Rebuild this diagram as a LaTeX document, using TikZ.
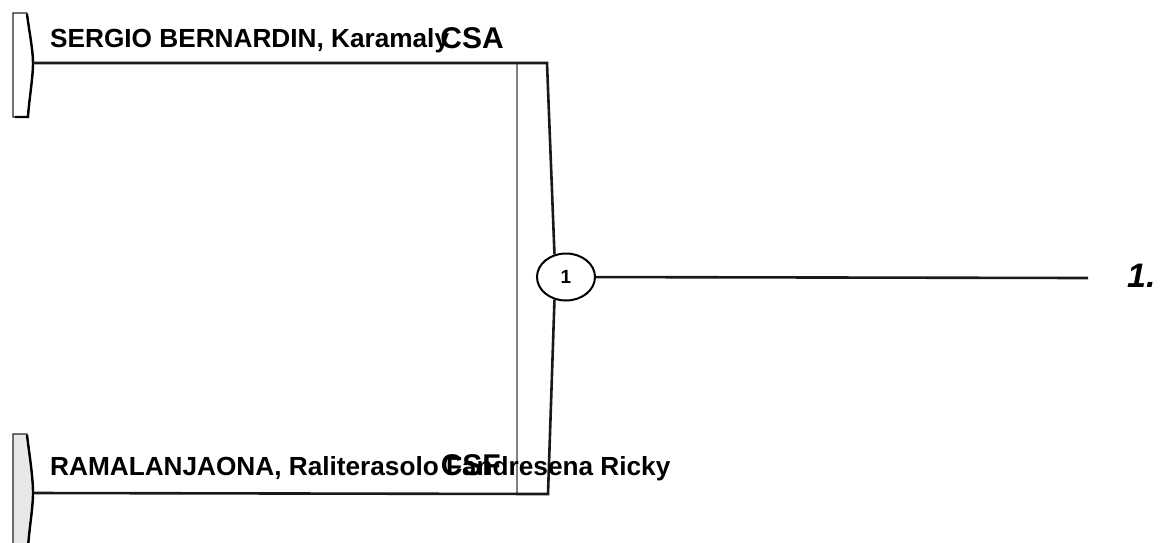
\documentclass[tikz,border=0pt]{standalone}
\usepackage{fontspec}
\setmainfont{Liberation Sans}
\usetikzlibrary{shapes.geometric}

\tikzset{
  tab/.style={draw=black!85,line width=1.2pt},
  link/.style={draw=black!90,line width=2.6pt},
  namelbl/.style={anchor=base west,inner sep=0pt,font=\fontsize{26.2}{30}\selectfont\bfseries},
  clublbl/.style={anchor=base east,inner sep=0pt,font=\fontsize{30}{34}\selectfont\bfseries},
  matchbox/.style={draw,ellipse,line width=2pt,fill=white,minimum width=58pt,minimum height=47pt,inner sep=0pt,font=\fontsize{19}{21}\selectfont\bfseries}
}

\begin{document}
\begin{tikzpicture}[x=1pt,y=-1pt]
\useasboundingbox (0,0) rectangle (1164,542);

\coordinate (pa) at (33,63);
\coordinate (pb) at (33,493);
\coordinate (ja) at (547,63);
\coordinate (jb) at (548,494);
\coordinate (r1) at (1088,278);

% entry tabs
\draw[tab,fill=white] (13,13) -- (27,13) .. controls (29,30) and (33,50) .. (pa)
  .. controls (33,78) and (29,100) .. (28,117) -- (13,117) -- cycle;
\draw[tab,fill=black!9] (13,434) -- (27,434) .. controls (29,452) and (33,476) .. (pb)
  .. controls (33,508) and (29,530) .. (28,548) -- (13,548) -- cycle;
\draw[line width=2.4pt] (27,14) .. controls (29,30) and (33,50) .. (pa)
  .. controls (33,78) and (29,100) .. (28,117) -- (15,117);
\draw[line width=2.4pt] (27,435) .. controls (29,452) and (33,476) .. (pb)
  .. controls (33,508) and (29,530) .. (28,548);

% bracket
\draw[black!50,line width=1.6pt] (517,63) -- (517,493);
\node[matchbox] (m1) at (566,277) {1};
\draw[link] (pa) -- (ja) -- (m1.117);
\draw[link] (pb) -- (jb) -- (m1.243);
\draw[link] (m1) -- (r1);
\node[anchor=base west,inner sep=0pt,font=\fontsize{34}{38}\selectfont\bfseries\itshape] (w1) at (1127,287) {1.};

% names
\node[namelbl] (na) at (50,47) {SERGIO BERNARDIN, Karamaly};
\node[clublbl] (ca) at (504,48) {CSA};
\node[namelbl] (nb) at (50,475) {RAMALANJAONA, Raliterasolo Fandresena Ricky};
\node[clublbl] (cb) at (501,475) {CSF};

\end{tikzpicture}
\end{document}
